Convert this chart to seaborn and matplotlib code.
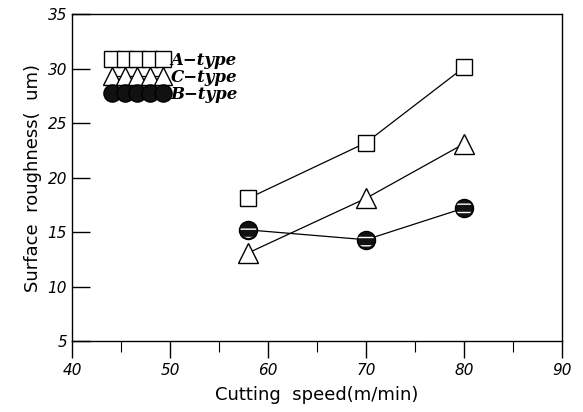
import matplotlib
matplotlib.use("Agg")
import matplotlib.pyplot as plt
import seaborn as sns
import pandas as pd

# cutting speed (m/min) and surface roughness (um)
speed = [58, 70, 80]
a_type = [18.1, 23.2, 30.1]
c_type = [13.1, 18.1, 23.1]
b_type = [15.2, 14.3, 17.2]

df = pd.DataFrame({
    "speed": speed * 3,
    "roughness": a_type + c_type + b_type,
    "type": ["A\u2212type"] * 3 + ["C\u2212type"] * 3 + ["B\u2212type"] * 3,
})

sns.set_style("ticks")
plt.rcParams["font.family"] = ["DejaVu Sans"]
plt.rcParams["text.color"] = "black"
plt.rcParams["axes.labelcolor"] = "black"
plt.rcParams["xtick.color"] = "black"
plt.rcParams["ytick.color"] = "black"

fig = plt.figure(figsize=(5.83, 4.12), dpi=100)
ax = fig.add_axes([0.1235, 0.172, 0.8405, 0.794])

styles = {
    "A\u2212type": dict(marker="s", ms=12, mfc="white", mec="black"),
    "C\u2212type": dict(marker="^", ms=14, mfc="white", mec="black"),
    "B\u2212type": dict(marker="o", ms=13, mfc="#111111", mec="black"),
}
sns.lineplot(data=df, x="speed", y="roughness", hue="type",
             palette={k: "black" for k in styles}, legend=False, ax=ax,
             linewidth=0.9)
handles = []
for line, (name, st) in zip(ax.get_lines(), styles.items()):
    line.set_marker(st["marker"])
    line.set_markersize(st["ms"])
    line.set_markerfacecolor(st["mfc"])
    line.set_markeredgecolor(st["mec"])
    line.set_markeredgewidth(1.0)
    line.set_label(name)
    handles.append(line)

# white streaks across the dark circles
bdf = df[df["type"] == "B\u2212type"]
ax.scatter(bdf["speed"], bdf["roughness"], s=130, facecolor="none",
           edgecolor="white", linewidth=0, hatch="--", zorder=5)

ax.set_xlim(40, 90)
ax.set_ylim(5, 35)
ax.set_xticks([40, 50, 60, 70, 80, 90])
ax.set_xticks([45, 55, 65, 75, 85], minor=True)
ax.set_yticks([5, 10, 15, 20, 25, 30, 35])
ax.tick_params(axis="x", which="major", direction="out", length=12, width=1, labelsize=11)
ax.tick_params(axis="x", which="minor", direction="out", length=8, width=0.8)
ax.tick_params(axis="y", which="major", direction="in", length=13, width=1, labelsize=11)
for lab in ax.get_xticklabels() + ax.get_yticklabels():
    lab.set_fontstyle("italic")
for s in ax.spines.values():
    s.set_linewidth(1.0)
    s.set_color("black")

ax.set_xlabel("Cutting  speed(m/min)", fontsize=13, labelpad=6)
ax.set_ylabel("Surface  roughness(  um)", fontsize=13, labelpad=4)

leg = ax.legend(handles=handles, loc="upper left", bbox_to_anchor=(0.04, 0.93),
                numpoints=5, handlelength=3.7, handletextpad=0.15,
                labelspacing=0.0, frameon=False, markerscale=0.95,
                prop={"family": "DejaVu Serif", "weight": "bold",
                      "style": "italic", "size": 12})

fig.savefig("out.png", dpi=100)
